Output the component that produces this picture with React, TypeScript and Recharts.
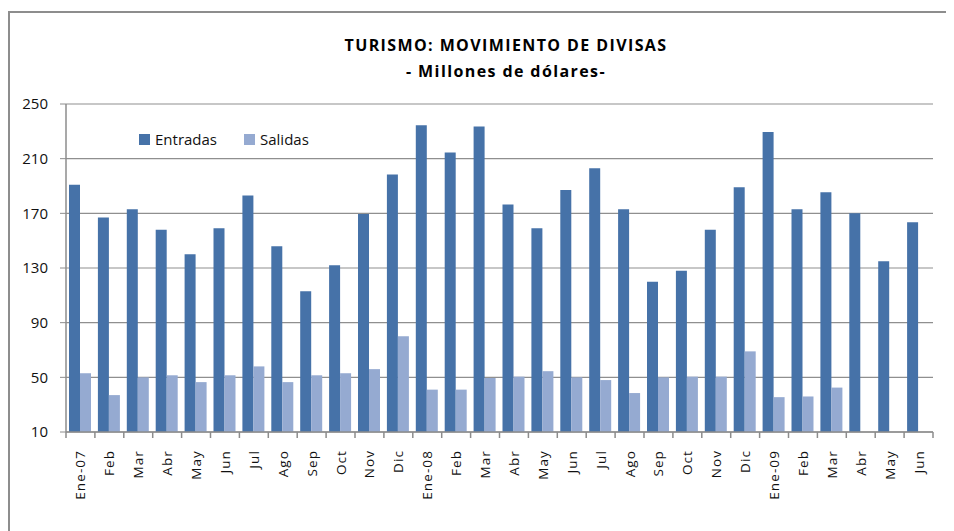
import React from "react";
import { BarChart, Bar, XAxis, YAxis, CartesianGrid } from "recharts";

const meses = [
  "Ene-07", "Feb", "Mar", "Abr", "May", "Jun", "Jul", "Ago", "Sep", "Oct", "Nov", "Dic",
  "Ene-08", "Feb", "Mar", "Abr", "May", "Jun", "Jul", "Ago", "Sep", "Oct", "Nov", "Dic",
  "Ene-09", "Feb", "Mar", "Abr", "May", "Jun",
];
const entradas = [
  191, 167, 173, 158, 140, 159, 183, 146, 113, 132, 169.5, 198.5,
  234.5, 214.5, 233.5, 176.5, 159, 187, 203, 173, 120, 128, 158, 189,
  229.5, 173, 185.5, 170, 135, 163.5,
];
const salidas: (number | null)[] = [
  53, 37, 50, 51.5, 46.5, 51.5, 58, 46.5, 51.5, 53, 56, 80,
  41, 41, 49.5, 50.5, 54.5, 50, 48, 38.5, 50, 50.5, 50.5, 69,
  35.5, 36, 42.5, null, null, null,
];
const yTicks = [10, 50, 90, 130, 170, 210, 250];
const seriesNames = ["Entradas", "Salidas"];
const colors = ["#4672A8", "#95AAD1"];
const titleLines = ["TURISMO: MOVIMIENTO DE DIVISAS", "- Millones de dólares-"];

const data = meses.map((m, i) => ({ mes: m, idx: i, entradas: entradas[i], salidas: salidas[i] }));

const FONT = "'Open Sans', 'DejaVu Sans', sans-serif";
const AXIS_GRAY = "#8c8c8c";

const XTick = (props: any) => {
  const { x, y, payload, index } = props;
  const off = payload && payload.offset != null ? payload.offset : 14.45;
  const label = meses[payload.value] ?? payload.value;
  return (
    <g>
      <line x1={x - off} x2={x - off} y1={y} y2={y + 6} stroke={AXIS_GRAY} strokeWidth={1.5} />
      {index === meses.length - 1 && (
        <line x1={x + off} x2={x + off} y1={y} y2={y + 6} stroke={AXIS_GRAY} strokeWidth={1.5} />
      )}
      <text
        x={x}
        y={y + 18}
        transform={`rotate(-90, ${x}, ${y + 18})`}
        textAnchor="end"
        dominantBaseline="central"
        fontFamily={FONT}
        fontSize={13.5}
        letterSpacing={1.1}
        fill="#111"
      >
        {label}
      </text>
    </g>
  );
};

export default function App() {
  return (
    <div style={{ position: "relative", width: 946, height: 523, overflow: "hidden", background: "#fff" }}>
      <div
        style={{
          position: "absolute",
          left: 0,
          top: 3,
          width: 2000,
          height: 2000,
          border: "2px solid #8d8d8d",
          boxSizing: "border-box",
        }}
      />
      <div
        style={{
          position: "absolute",
          left: 498,
          top: 24,
          transform: "translateX(-50%)",
          whiteSpace: "nowrap",
          textAlign: "center",
          fontFamily: FONT,
          fontWeight: 700,
          fontSize: 16,
          letterSpacing: 1.4,
          lineHeight: "26px",
          color: "#000",
        }}
      >
        <div>{titleLines[0]}</div>
        <div>{titleLines[1]}</div>
      </div>
      <div style={{ position: "absolute", left: 0, top: 0 }}>
        <BarChart
          width={946}
          height={523}
          data={data}
          margin={{ top: 96, right: 21, left: 0, bottom: 0 }}
          barGap={0}
          barSize={11}
        >
          <CartesianGrid horizontal vertical={false} stroke="#8f8f8f" strokeWidth={1.2} />
          <XAxis
            dataKey="idx"
            type="category"
            height={99}
            tickLine={false}
            tickSize={0}
            tickMargin={0}
            axisLine={{ stroke: AXIS_GRAY, strokeWidth: 1.5 }}
            interval={0}
            tick={<XTick />}
          />
          <YAxis
            width={58}
            domain={[10, 250]}
            ticks={yTicks}
            type="number"
            allowDataOverflow
            tickSize={6}
            tickMargin={12}
            tickLine={{ stroke: AXIS_GRAY }}
            axisLine={{ stroke: AXIS_GRAY, strokeWidth: 1.5 }}
            tick={{ fontFamily: FONT, fontSize: 15, fill: "#111" }}
          />
          <Bar dataKey="entradas" name={seriesNames[0]} fill={colors[0]} isAnimationActive={false} />
          <Bar dataKey="salidas" name={seriesNames[1]} fill={colors[1]} isAnimationActive={false} />
        </BarChart>
      </div>
      <div
        style={{
          position: "absolute",
          left: 131,
          top: 121,
          display: "flex",
          alignItems: "center",
          fontFamily: FONT,
          fontSize: 15,
          color: "#111",
          height: 20,
        }}
      >
        {seriesNames.map((n, i) => (
          <div key={n} style={{ display: "flex", alignItems: "center", marginRight: 27 }}>
            <span style={{ display: "inline-block", width: 11, height: 11, background: colors[i], marginRight: 5 }} />
            <span>{n}</span>
          </div>
        ))}
      </div>
    </div>
  );
}
